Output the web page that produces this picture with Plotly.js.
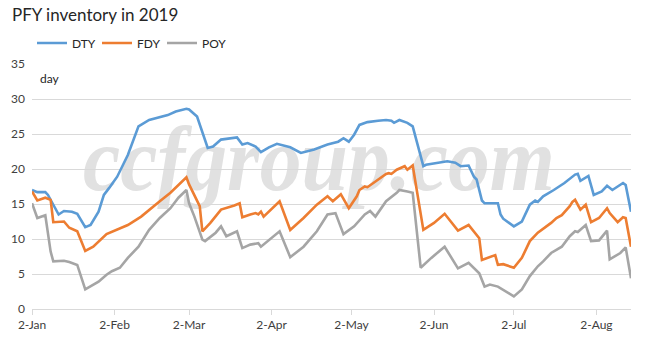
<!DOCTYPE html>
<html>
<head>
<meta charset="utf-8">
<script src="https://cdn.plot.ly/plotly-3.0.1.min.js"></script>
<style>html,body{margin:0;padding:0;background:#fff;}#chart{width:667px;height:355px;}</style>
</head>
<body>
<div id="chart"></div>
<script>
const dtyDates = ['2019-01-02','2019-01-04','2019-01-07','2019-01-08','2019-01-12','2019-01-14','2019-01-17','2019-01-19','2019-01-22','2019-01-24','2019-01-27','2019-01-29','2019-01-31','2019-02-03','2019-02-07','2019-02-11','2019-02-15','2019-02-19','2019-02-22','2019-02-25','2019-03-01','2019-03-02','2019-03-05','2019-03-09','2019-03-11','2019-03-14','2019-03-17','2019-03-20','2019-03-22','2019-03-24','2019-03-27','2019-03-29','2019-04-01','2019-04-04','2019-04-09','2019-04-13','2019-04-18','2019-04-23','2019-04-27','2019-04-29','2019-05-01','2019-05-03','2019-05-05','2019-05-08','2019-05-12','2019-05-15','2019-05-17','2019-05-18','2019-05-20','2019-05-23','2019-05-25','2019-05-29','2019-05-30','2019-06-03','2019-06-07','2019-06-10','2019-06-12','2019-06-15','2019-06-17','2019-06-18','2019-06-20','2019-06-21','2019-06-26','2019-06-27','2019-06-28','2019-07-02','2019-07-05','2019-07-08','2019-07-10','2019-07-11','2019-07-13','2019-07-17','2019-07-21','2019-07-25','2019-07-26','2019-07-27','2019-07-30','2019-08-01','2019-08-04','2019-08-06','2019-08-08','2019-08-10','2019-08-12','2019-08-13','2019-08-15'];
const dtyValues = [17.0,16.7,16.7,16.3,13.5,14.0,13.9,13.6,11.7,12.0,13.9,16.3,17.3,18.9,22.0,26.1,27.0,27.4,27.7,28.2,28.6,28.5,27.5,23.0,23.2,24.2,24.3,24.5,23.5,23.7,23.2,22.4,23.1,23.6,23.1,22.3,22.8,23.5,23.9,24.4,23.9,24.9,26.3,26.7,26.9,27.0,26.9,26.6,27.0,26.6,26.1,20.4,20.6,20.9,21.1,20.9,20.4,20.5,18.9,18.5,15.5,15.1,15.1,13.5,12.9,11.8,12.5,14.9,15.5,15.3,16.1,17.0,18.0,19.2,19.3,18.3,19.0,16.3,16.8,17.6,17.0,17.5,18.0,17.7,13.9];

const fdyDates = ['2019-01-02','2019-01-04','2019-01-07','2019-01-09','2019-01-10','2019-01-14','2019-01-16','2019-01-19','2019-01-22','2019-01-25','2019-01-30','2019-02-02','2019-02-07','2019-02-12','2019-02-15','2019-02-19','2019-02-23','2019-02-26','2019-03-01','2019-03-02','2019-03-06','2019-03-07','2019-03-10','2019-03-14','2019-03-16','2019-03-19','2019-03-21','2019-03-22','2019-03-25','2019-03-27','2019-03-28','2019-03-29','2019-03-30','2019-04-05','2019-04-09','2019-04-14','2019-04-19','2019-04-23','2019-04-25','2019-04-28','2019-05-01','2019-05-04','2019-05-05','2019-05-07','2019-05-08','2019-05-12','2019-05-15','2019-05-16','2019-05-17','2019-05-19','2019-05-20','2019-05-22','2019-05-23','2019-05-25','2019-05-29','2019-06-02','2019-06-06','2019-06-11','2019-06-15','2019-06-19','2019-06-20','2019-06-25','2019-06-26','2019-06-28','2019-07-02','2019-07-05','2019-07-08','2019-07-11','2019-07-16','2019-07-18','2019-07-20','2019-07-23','2019-07-24','2019-07-25','2019-07-27','2019-07-29','2019-07-31','2019-08-03','2019-08-06','2019-08-07','2019-08-10','2019-08-12','2019-08-13','2019-08-15'];
const fdyValues = [16.8,15.5,15.9,15.6,12.4,12.5,11.6,11.1,8.3,8.9,10.7,11.2,12.0,13.2,14.2,15.4,16.6,17.7,18.8,17.8,14.7,11.1,12.3,14.2,14.4,14.8,15.1,13.1,13.5,13.7,13.5,13.9,13.2,15.4,11.3,13.0,14.9,16.1,15.4,16.4,14.4,16.1,17.0,17.5,17.4,18.5,19.3,19.4,19.3,19.9,20.1,20.4,19.9,20.5,11.3,12.3,13.6,11.2,12.0,10.1,7.0,7.7,6.3,6.4,5.9,7.3,9.7,10.9,12.3,13.0,13.4,14.7,15.3,15.6,14.2,14.9,12.4,13.0,14.4,13.7,12.4,13.1,13.0,8.9];

const poyDates = ['2019-01-02','2019-01-04','2019-01-07','2019-01-09','2019-01-10','2019-01-14','2019-01-16','2019-01-19','2019-01-22','2019-01-24','2019-01-27','2019-01-30','2019-02-01','2019-02-04','2019-02-07','2019-02-11','2019-02-15','2019-02-19','2019-02-23','2019-02-26','2019-03-01','2019-03-02','2019-03-04','2019-03-07','2019-03-08','2019-03-12','2019-03-14','2019-03-16','2019-03-20','2019-03-22','2019-03-25','2019-03-28','2019-03-29','2019-04-05','2019-04-09','2019-04-14','2019-04-19','2019-04-23','2019-04-26','2019-04-29','2019-05-03','2019-05-07','2019-05-09','2019-05-11','2019-05-15','2019-05-19','2019-05-20','2019-05-23','2019-05-25','2019-05-28','2019-06-01','2019-06-06','2019-06-11','2019-06-15','2019-06-19','2019-06-21','2019-06-23','2019-06-26','2019-06-29','2019-07-02','2019-07-05','2019-07-08','2019-07-11','2019-07-13','2019-07-16','2019-07-20','2019-07-23','2019-07-25','2019-07-26','2019-07-29','2019-07-31','2019-08-03','2019-08-06','2019-08-07','2019-08-11','2019-08-13','2019-08-15'];
const poyValues = [15.1,13.0,13.4,8.2,6.8,6.9,6.7,6.3,2.8,3.2,3.9,4.9,5.4,5.9,7.3,8.9,11.3,13.0,14.4,15.9,17.0,15.1,13.2,9.9,9.7,10.9,11.8,10.4,11.1,8.7,9.2,9.4,8.9,11.1,7.4,8.9,11.1,13.5,13.7,10.7,11.8,13.5,14.0,13.2,15.4,16.6,17.0,16.8,16.6,5.9,7.3,8.9,5.8,6.6,5.1,3.2,3.5,3.2,2.5,1.8,2.8,4.7,6.1,6.8,8.0,8.9,10.4,11.1,11.0,12.0,9.7,9.8,11.2,7.1,8.0,8.8,4.4];

const tickDates = ['2019-01-02','2019-02-02','2019-03-02','2019-04-02','2019-05-02','2019-06-02','2019-07-02','2019-08-02'];
const tickLabels = ['2-Jan','2-Feb','2-Mar','2-Apr','2-May','2-Jun','2-Jul','2-Aug'];
const seriesNames = ['DTY','FDY','POY'];
const seriesColors = ['#5B9BD5','#ED7D31','#A5A5A5'];

const FONT = 'Lato, Calibri, "Open Sans", sans-serif';
const xs = [dtyDates, fdyDates, poyDates];
const ys = [dtyValues, fdyValues, poyValues];
const traces = seriesNames.map((n, i) => ({
  x: xs[i], y: ys[i], name: n, type: 'scatter', mode: 'lines',
  line: {color: seriesColors[i], width: 2.6}
}));

const svg = "<svg xmlns='http://www.w3.org/2000/svg' width='599' height='245' viewBox='0 0 599 245'>" +
  "<text x='51' y='126' font-family='Liberation Serif, serif' font-style='italic' font-weight='bold' font-size='90' fill='#e1e1e1' textLength='472' lengthAdjust='spacingAndGlyphs'>ccfgroup.com</text></svg>";

const layout = {
  width: 667, height: 355,
  margin: {l: 32, r: 36, t: 64, b: 46},
  paper_bgcolor: '#fff', plot_bgcolor: '#fff',
  font: {family: FONT, size: 12, color: '#404040'},
  title: {text: 'PFY inventory in 2019', x: 12/667, xanchor: 'left', xref: 'container',
          y: 1 - 9/355, yanchor: 'top', yref: 'container',
          font: {family: FONT, size: 17, color: '#262626'}},
  showlegend: true,
  legend: {orientation: 'h', x: 0.0, xanchor: 'left', y: 1.086, yanchor: 'middle',
           font: {family: FONT, size: 12, color: '#262626'}, entrywidth: 20, entrywidthmode: 'pixels',
           bgcolor: 'rgba(0,0,0,0)', itemwidth: 30, tracegroupgap: 0},
  xaxis: {type: 'date', range: ['2019-01-02', '2019-08-15'], tickvals: tickDates, ticktext: tickLabels,
          showgrid: false, showline: true, linecolor: '#d9d9d9', linewidth: 1,
          ticks: 'outside', ticklen: 5, tickcolor: '#d9d9d9', zeroline: false,
          tickfont: {family: FONT, size: 12, color: '#404040'}},
  yaxis: {range: [0, 35], dtick: 5, tick0: 0, showgrid: true, gridcolor: '#d9d9d9', gridwidth: 1,
          zeroline: false, showline: false, ticks: '', ticklabelstandoff: 6,
          tickfont: {family: FONT, size: 12, color: '#404040'}},
  annotations: [{text: 'day', xref: 'paper', yref: 'paper', x: 6/599, y: 1 - 15/245,
                 xanchor: 'left', yanchor: 'middle', showarrow: false,
                 font: {family: FONT, size: 12, color: '#262626'}}],
  images: [{source: 'data:image/svg+xml;charset=utf-8,' + encodeURIComponent(svg),
            xref: 'paper', yref: 'paper', x: 0, y: 1, sizex: 1, sizey: 1,
            sizing: 'stretch', xanchor: 'left', yanchor: 'top', layer: 'below'}]
};

Plotly.newPlot('chart', traces, layout, {displayModeBar: false, staticPlot: true});
</script>
</body>
</html>
